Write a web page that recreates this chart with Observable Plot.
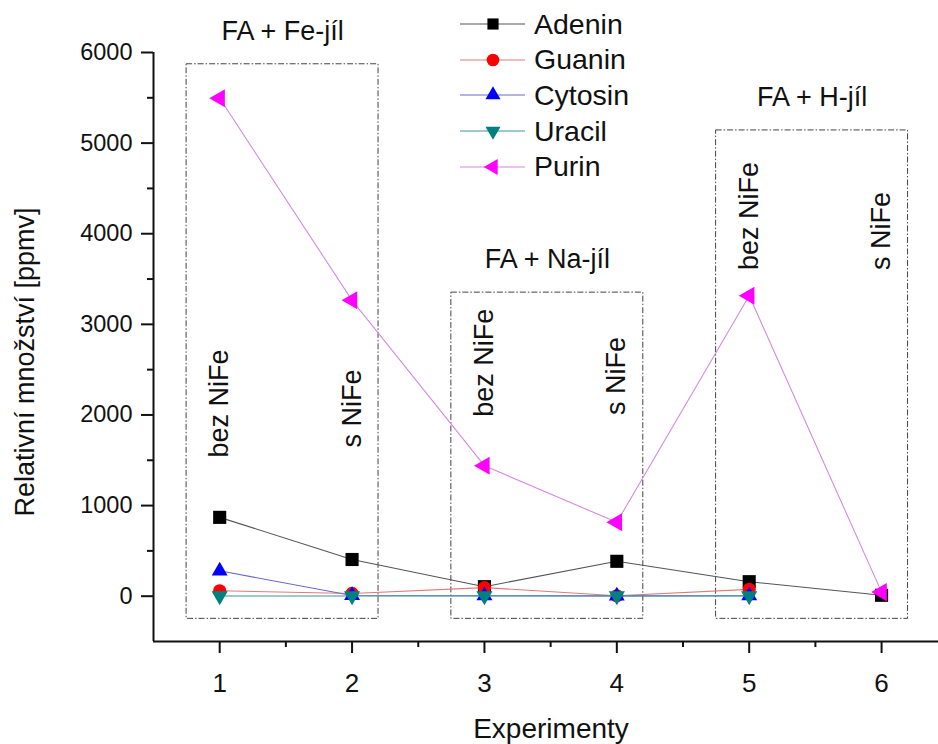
<!DOCTYPE html>
<html>
<head>
<meta charset="utf-8">
<script src="https://cdn.jsdelivr.net/npm/d3@7"></script>
<script src="https://cdn.jsdelivr.net/npm/@observablehq/plot@0.6"></script>
<style>
  html, body { margin: 0; padding: 0; background: #fff; }
  #wrap { position: relative; width: 938px; height: 744px; font-family: "Liberation Sans", Arial, sans-serif; }
  #legend { position: absolute; left: 458px; top: 6px; }
  .lrow { display: flex; align-items: center; height: 35.7px; }
  .lrow span { font-size: 28.5px; color: #111; margin-left: 8px; line-height: 1; }
</style>
</head>
<body>
<div id="wrap"><div id="legend"></div></div>
<script>
// ---- data ----
const experiments = [1, 2, 3, 4, 5, 6];
const seriesNames = ["Adenin", "Guanin", "Cytosin", "Uracil", "Purin"];
const adenin  = [870, 405, 105, 385, 160, 10];
const guanin  = [60, 30, 95, 5, 75, null];
const cytosin = [280, 8, 5, 3, 5, null];
const uracil  = [2, 2, 2, 2, 2, null];
const purin   = [5495, 3265, 1440, 815, 3315, 45];
const seriesValues = [adenin, guanin, cytosin, uracil, purin];
const markerColors = ["#000000", "#ff0000", "#0000ff", "#008080", "#ff00ff"];
const lineColors = ["#555555", "#e07a7a", "#6a6ac8", "#3a9898", "#d48ae0"];
const markerShapes = ["square", "circle", "triangleUp", "triangleDown", "triangleLeft"];

const yTicks = [0, 1000, 2000, 3000, 4000, 5000, 6000];
const yMinorTicks = [500, 1500, 2500, 3500, 4500, 5500];
const xTicks = [1, 2, 3, 4, 5, 6];
const xMinorTicks = [1.5, 2.5, 3.5, 4.5, 5.5];

const groupLabels = ["FA + Fe-jíl", "FA + Na-jíl", "FA + H-jíl"];
const groupX1 = [0.75, 2.75, 4.75];
const groupX2 = [2.2, 4.2, 6.2];
const groupTop = [5870, 3350, 5140];
const groupBottom = [-250, -250, -250];

const subLabels = ["bez NiFe", "s NiFe", "bez NiFe", "s NiFe", "bez NiFe", "s NiFe"];
const subX = [1, 2, 3, 4, 5, 6];
const subY = [1530, 1640, 1980, 2000, 3600, 3600];

const xTitle = "Experimenty";
const yTitle = "Relativní množství [ppmv]";

// ---- symbols ----
const sqrt3 = Math.sqrt(3);
function triSym(dir) {
  return {
    draw(ctx, size) {
      const y = -Math.sqrt(size / (sqrt3 * 3));
      const pts = [[0, y * 2], [-sqrt3 * y, -y], [sqrt3 * y, -y]];
      const tr = pts.map(([a, b]) =>
        dir === "up" ? [a, b] : dir === "down" ? [a, -b] : [b, a]);
      ctx.moveTo(tr[0][0], tr[0][1]);
      ctx.lineTo(tr[1][0], tr[1][1]);
      ctx.lineTo(tr[2][0], tr[2][1]);
      ctx.closePath();
    }
  };
}
const symbolMap = {
  square: d3.symbolSquare,
  circle: d3.symbolCircle,
  triangleUp: triSym("up"),
  triangleDown: triSym("down"),
  triangleLeft: triSym("left")
};
const sizeMap = { square: 7.4, circle: 6.6, triangleUp: 5.9, triangleDown: 6.0, triangleLeft: 6.7 };
const legendSizeMap = { square: 6.3, circle: 6.3, triangleUp: 5.6, triangleDown: 5.6, triangleLeft: 6.0 };

// ---- tables ----
const groups = groupLabels.map((t, i) => ({ label: t, x1: groupX1[i], x2: groupX2[i], top: groupTop[i], bottom: groupBottom[i] }));
const subs = subLabels.map((t, i) => ({ text: t, x: subX[i], y: subY[i] }));

const seriesMarks = [];
seriesNames.forEach((name, si) => {
  const rows = experiments.map((e, i) => ({ x: e, y: seriesValues[si][i] })).filter(d => d.y != null);
  seriesMarks.push(Plot.line(rows, { x: "x", y: "y", stroke: lineColors[si], strokeWidth: 1.1 }));
  seriesMarks.push(Plot.dot(rows, { x: "x", y: "y", fill: markerColors[si], stroke: "none",
    symbol: symbolMap[markerShapes[si]], r: sizeMap[markerShapes[si]] }));
});

const font = "Liberation Sans, Arial, sans-serif";

const chart = Plot.plot({
  width: 938,
  height: 744,
  marginLeft: 153,
  marginRight: 0,
  marginTop: 52,
  marginBottom: 103,
  style: { fontFamily: font, background: "white", color: "#111", overflow: "visible" },
  x: { domain: [0.5, 6.43] },
  y: { domain: [-500, 6000] },
  marks: [
    Plot.rect(groups, { x1: "x1", x2: "x2", y1: "bottom", y2: "top", fill: "none",
      stroke: "#444", strokeWidth: 1, strokeDasharray: "6,2,1.5,2" }),
    Plot.text(groups, { x: d => (d.x1 + d.x2) / 2, y: "top", text: "label", dy: -33,
      fontSize: 27, fontFamily: font, fill: "#111" }),
    Plot.text(subs, { x: "x", y: "y", text: "text", rotate: -90, textAnchor: "start",
      fontSize: 27, fontFamily: font, fill: "#111" }),
    ...seriesMarks,
    Plot.axisY({ ticks: yTicks, tickSize: 12, tickFormat: () => "", label: null,
      strokeWidth: 2, stroke: "#111" }),
    Plot.axisY({ ticks: yMinorTicks, tickSize: 6, tickFormat: () => "", label: null,
      strokeWidth: 2, stroke: "#111" }),
    Plot.axisX({ ticks: xTicks, tickSize: 12, tickFormat: () => "", label: null,
      strokeWidth: 2, stroke: "#111" }),
    Plot.axisX({ ticks: xMinorTicks, tickSize: 6, tickFormat: () => "", label: null,
      strokeWidth: 2, stroke: "#111" }),
    Plot.ruleX([0.5], { stroke: "#111", strokeWidth: 2 }),
    Plot.ruleY([-500], { stroke: "#111", strokeWidth: 2 }),
    Plot.text(yTicks, { y: d => d, text: d => String(d), frameAnchor: "left", textAnchor: "end",
      lineAnchor: "middle", dx: -21, fontSize: 23.5, fontFamily: font, fill: "#111" }),
    Plot.text(xTicks, { x: d => d, text: d => String(d), frameAnchor: "bottom", textAnchor: "middle",
      lineAnchor: "middle", dy: 42, fontSize: 26, fontFamily: font, fill: "#111" }),
    Plot.text([xTitle], { frameAnchor: "bottom", textAnchor: "middle", lineAnchor: "middle",
      dx: 5, dy: 88, fontSize: 28, fontFamily: font, fill: "#111" }),
    Plot.text([yTitle], { frameAnchor: "left", rotate: -90, textAnchor: "middle", lineAnchor: "middle",
      dx: -128, dy: 15, fontSize: 27, fontFamily: font, fill: "#111" })
  ]
});
document.getElementById("wrap").prepend(chart);

// ---- legend ----
const legend = d3.select("#legend");
seriesNames.forEach((name, si) => {
  const row = legend.append("div").attr("class", "lrow");
  const svg = row.append("svg").attr("width", 68).attr("height", 30);
  svg.append("line").attr("x1", 2).attr("x2", 67).attr("y1", 15).attr("y2", 15)
    .attr("stroke", lineColors[si]).attr("stroke-width", 1.1);
  const shape = markerShapes[si];
  const r = legendSizeMap[shape];
  svg.append("path")
    .attr("transform", "translate(35,15)")
    .attr("d", d3.symbol(symbolMap[shape], Math.PI * r * r)())
    .attr("fill", markerColors[si]);
  row.append("span").text(name);
});
</script>
</body>
</html>
